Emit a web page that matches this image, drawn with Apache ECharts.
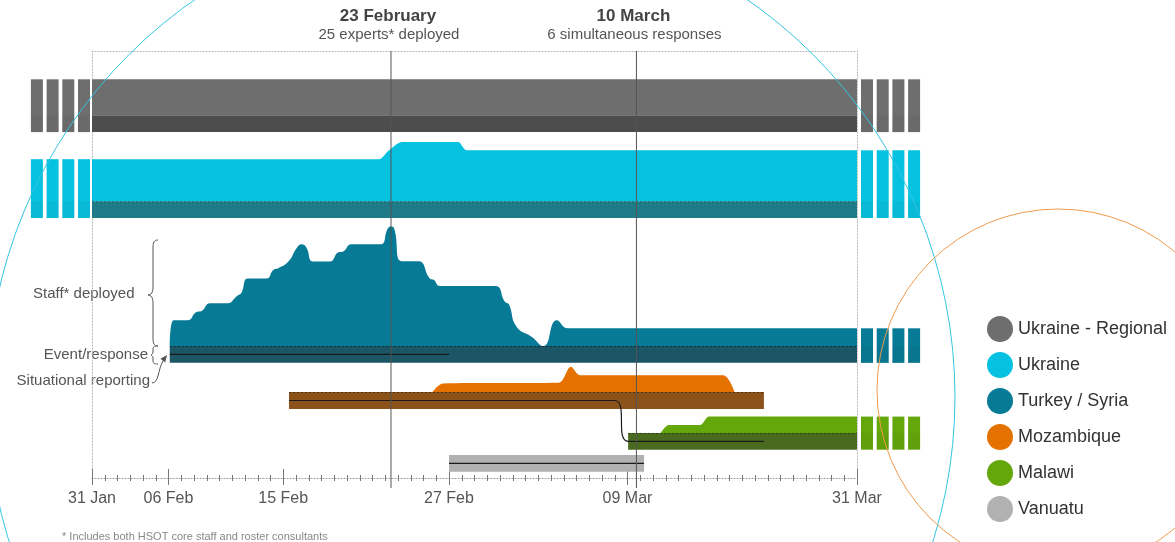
<!DOCTYPE html>
<html>
<head>
<meta charset="utf-8">
<script src="https://cdn.jsdelivr.net/npm/echarts@6/dist/echarts.min.js"></script>
<style>
  html, body { margin: 0; padding: 0; background: #fff; }
  #chart { width: 1175px; height: 542px; }
</style>
</head>
<body>
<div id="chart"></div>
<script>
const FONT = "'Helvetica Neue', Arial, 'Liberation Sans', sans-serif"

// x runs in tick units: 0 = 31 Jan ... 60 = 31 Mar
const tickDays = [0, 6, 15, 28, 42, 60]
const tickLabels = ['31 Jan', '06 Feb', '15 Feb', '27 Feb', '09 Mar', '31 Mar']

const responses = ['Ukraine - Regional', 'Ukraine', 'Turkey / Syria', 'Mozambique', 'Malawi', 'Vanuatu']
const areaColors = ['#6e6e6e', '#06c1df', '#077a96', '#e57200', '#63a70a', '#b1b1b1']
const bandColors = ['#4d4d4d', '#1f7b88', '#1c5566', '#8b521a', '#4a6b1f', '#b1b1b1']

// event / response period [start, end]
const responsePeriods = [[0, 60], [0, 60], [6.1, 60], [15.45, 52.7], [42.05, 60], [28.0, 43.3]]
// situational reporting [start, end]
const sitrepPeriods = [null, null, [6.1, 28.0], [15.45, 41.0], [42.05, 52.7], [28.0, 43.3]]
// Mozambique reporting carries on into Malawi
const sitrepContinues = [null, null, null, 4, null, null]
// still running before / after the window
const ongoingBefore = [true, true, false, false, false, false]
const ongoingAfter = [true, true, true, false, true, false]

// staff deployed: [day, staff]
const staffUkraineRegional = [[0, 7.5], [60, 7.5]]
const staffUkraine = [[0, 8.75], [22.5, 8.75], [23.25, 10.5], [24.35, 12.35], [28.7, 12.35], [29.4, 10.6], [60, 10.6]]
const staffTurkey = [[6.1, 0], [6.4, 5.4], [7.5, 5.4], [8.2, 7.1], [8.6, 7.3], [9.25, 8.9], [10.55, 8.9],
  [11.45, 10.6], [11.7, 11], [12.25, 14.1], [13.7, 14.1], [14.2, 15.8], [14.6, 16.2], [15.4, 17.6],
  [16.1, 20.6], [16.45, 21.2], [16.8, 20.6], [17.35, 17.6], [18.65, 17.6], [19.3, 19.5], [19.7, 19.7],
  [20.35, 21.2], [22.6, 21.2], [23.2, 24.5], [23.45, 24.9], [23.7, 24.5], [24.3, 17.7], [25.6, 17.7],
  [26.5, 14.1], [26.8, 13.8], [27.3, 12.5], [31.6, 12.5], [32.4, 9.2], [32.7, 8.7], [33.3, 4], [34.5, 1.9],
  [35.4, 0], [36.45, 5.4], [37.35, 3.7], [60, 3.7]]
const staffMozambique = [[26.7, 0], [27.5, 1.8], [36.6, 1.95], [37.55, 5.3], [38.3, 3.5], [49.5, 3.5], [50.4, 0]]
const staffMalawi = [[44.6, 0], [45.25, 1.67], [47.7, 1.67], [48.4, 3.4], [60, 3.4]]
const staffSeries = [staffUkraineRegional, staffUkraine, staffTurkey, staffMozambique, staffMalawi, null]
const staffSmooth = [false, 0.3, 0.5, 0.3, 0.3, false]

// highlighted dates
const eventDays = [23.45, 42.7]
const eventTitles = ['23 February', '10 March']
const eventNotes = ['25 experts* deployed', '6 simultaneous responses']

// layout (y units, 0 = axis line)
const Y_MAX = 89
const rowBase = [75.6, 57.7, 27.5, 17.9, 9.4, 4.8]
const bandHeight = 3.5

const chart = echarts.init(document.getElementById('chart'))

function bandItem(row) {
  return function (params, api) {
    const base = rowBase[row]
    const p0 = api.coord([api.value(0), base])
    const p1 = api.coord([api.value(1), base - bandHeight])
    const children = [{
      type: 'rect',
      shape: { x: p0[0], y: p0[1], width: p1[0] - p0[0], height: p1[1] - p0[1] },
      style: { fill: bandColors[row] }
    }]
    if (staffSeries[row] && row > 0) {
      children.push({
        type: 'line',
        shape: { x1: p0[0], y1: p0[1] + 0.5, x2: p1[0], y2: p0[1] + 0.5 },
        style: { stroke: 'rgba(0,0,0,0.45)', lineWidth: 1, lineDash: [2, 2] }
      })
    }
    return { type: 'group', children }
  }
}

function ongoingItem(params, api) {
  const row = api.value(0)
  const side = api.value(1)
  const pts = staffSeries[row]
  const staff = side === 0 ? pts[0][1] : pts[pts.length - 1][1]
  const edge = side === 0 ? 0 : 60
  const top = api.coord([edge, rowBase[row] + staff])
  const mid = api.coord([edge, rowBase[row]])
  const bottom = api.coord([edge, rowBase[row] - bandHeight])
  const children = []
  for (let i = 0; i < 4; i++) {
    const x = side === 0 ? top[0] - 14 - (3 - i) * 15.7 : top[0] + 4 + i * 15.7
    children.push({ type: 'rect', shape: { x, y: top[1], width: 12, height: bottom[1] - top[1] }, style: { fill: areaColors[row] } })
    children.push({ type: 'rect', shape: { x, y: mid[1], width: 12, height: bottom[1] - mid[1] }, style: { fill: bandColors[row], opacity: 0.1 } })
  }
  return { type: 'group', children }
}

function eventItem(params, api) {
  const top = api.coord([api.value(0), Y_MAX])
  const bottom = api.coord([api.value(0), 0])
  const i = params.dataIndex
  return {
    type: 'group',
    children: [
      { type: 'line', shape: { x1: top[0], y1: top[1], x2: top[0], y2: bottom[1] + 10 }, style: { stroke: '#555', lineWidth: 1 } },
      { type: 'text', style: { text: eventTitles[i], x: top[0] - 3, y: 16, align: 'center', verticalAlign: 'middle', font: 'bold 17px ' + FONT, fill: '#444' } },
      { type: 'text', style: { text: eventNotes[i], x: top[0] - 2, y: 35, align: 'center', verticalAlign: 'middle', font: '15px ' + FONT, fill: '#555' } }
    ]
  }
}

const series = []

responses.forEach((name, row) => {
  series.push({
    name, type: 'custom', clip: false, z: 2, silent: true,
    renderItem: bandItem(row),
    data: [responsePeriods[row]]
  })
  if (staffSeries[row]) {
    series.push({
      name, type: 'line', z: 2, silent: true, symbol: 'none',
      smooth: staffSmooth[row],
      lineStyle: { width: 0 },
      areaStyle: { color: areaColors[row], opacity: 1, origin: rowBase[row] },
      data: staffSeries[row].map(p => [p[0], rowBase[row] + p[1]])
    })
  }
})

const continued = sitrepContinues.filter(v => v != null)
sitrepPeriods.forEach((p, row) => {
  if (!p || continued.includes(row)) return
  const mid = rowBase[row] - bandHeight / 2
  const pts = [[p[0], mid], [p[1], mid]]
  const next = sitrepContinues[row]
  if (next != null) {
    const q = sitrepPeriods[next]
    const mid2 = rowBase[next] - bandHeight / 2
    pts.push([q[0], mid2], [q[1], mid2])
  }
  series.push({
    type: 'line', z: 3, silent: true, symbol: 'none', smooth: 0.5,
    lineStyle: { color: '#1a1a1a', width: 1.2 },
    data: pts
  })
})

const ongoingData = []
responses.forEach((n, row) => {
  if (ongoingBefore[row]) ongoingData.push([row, 0])
  if (ongoingAfter[row]) ongoingData.push([row, 1])
})
series.push({ type: 'custom', clip: false, z: 2, silent: true, renderItem: ongoingItem, data: ongoingData })
series.push({ type: 'custom', clip: false, z: 4, silent: true, renderItem: eventItem, data: eventDays.map(d => [d, Y_MAX]) })

const baseX = { type: 'value', min: 0, max: 60, position: 'bottom', splitLine: { show: false } }
const tickColor = '#777'
const frameLine = { show: true, onZero: false, lineStyle: { color: '#b4b4b4', type: [1, 2] } }

// curly brace from (xEnd, yTop) to (xEnd, yBottom), pointing left to xTip at yMid
function brace(xTip, xEnd, yTop, yMid, yBottom, r) {
  const xs = xEnd - 5
  const st = { fill: 'none', stroke: '#555', lineWidth: 1 }
  const bz = (x1, y1, cpx1, cpy1, cpx2, cpy2, x2, y2) => ({ type: 'bezierCurve', silent: true, shape: { x1, y1, cpx1, cpy1, cpx2, cpy2, x2, y2 }, style: st })
  return [
    bz(xEnd, yTop, xs + 1, yTop, xs, yTop + r * 0.3, xs, yTop + r),
    { type: 'line', silent: true, shape: { x1: xs, y1: yTop + r, x2: xs, y2: yMid - r }, style: st },
    bz(xs, yMid - r, xs, yMid - r * 0.3, xs - 2, yMid, xTip, yMid),
    bz(xTip, yMid, xs - 2, yMid, xs, yMid + r * 0.3, xs, yMid + r),
    { type: 'line', silent: true, shape: { x1: xs, y1: yMid + r, x2: xs, y2: yBottom - r }, style: st },
    bz(xs, yBottom - r, xs, yBottom - r * 0.3, xs + 1, yBottom, xEnd, yBottom)
  ]
}

const option = {
  animation: false,
  textStyle: { fontFamily: FONT },
  grid: { left: 92, right: 318, top: 51, bottom: 64, containLabel: false, outerBoundsMode: 'none' },
  xAxis: [
    { ...baseX, interval: 1,
      axisLine: { show: true, onZero: false, lineStyle: { color: '#999', type: [1, 2] } },
      axisTick: { show: true, length: 3, lineStyle: { color: tickColor } },
      axisLabel: { show: true, customValues: tickDays, formatter: v => tickLabels[tickDays.indexOf(v)] || '',
        fontSize: 16, color: '#555', margin: 13, fontFamily: FONT } },
    { ...baseX,
      axisLine: { show: false, onZero: false },
      axisTick: { show: true, customValues: tickDays, length: 7, lineStyle: { color: tickColor } },
      axisLabel: { show: false } },
    { ...baseX, interval: 1,
      axisLine: { show: false, onZero: false },
      axisTick: { show: true, inside: true, length: 3, lineStyle: { color: tickColor } },
      axisLabel: { show: false } },
    { ...baseX,
      axisLine: { show: false, onZero: false },
      axisTick: { show: true, inside: true, customValues: tickDays, length: 9, lineStyle: { color: tickColor } },
      axisLabel: { show: false } },
    { ...baseX, position: 'top', axisLine: frameLine,
      axisTick: { show: false }, axisLabel: { show: false } }
  ],
  yAxis: [
    { type: 'value', min: 0, max: Y_MAX, position: 'left', axisLine: frameLine,
      axisTick: { show: false }, axisLabel: { show: false }, splitLine: { show: false } },
    { type: 'value', min: 0, max: Y_MAX, position: 'right', axisLine: frameLine,
      axisTick: { show: false }, axisLabel: { show: false }, splitLine: { show: false } }
  ],
  legend: {
    orient: 'vertical', left: 982, top: 311,
    itemWidth: 26, itemHeight: 26, itemGap: 10, icon: 'circle', selectedMode: false,
    textStyle: { fontSize: 18, color: '#333', fontFamily: FONT },
    data: responses.map((name, i) => ({ name, itemStyle: { color: areaColors[i] } }))
  },
  graphic: [
    { type: 'circle', silent: true, z: 100, shape: { cx: 471, cy: 397, r: 484 }, style: { fill: 'none', stroke: '#33c5e1', lineWidth: 1 } },
    { type: 'circle', silent: true, z: 100, shape: { cx: 1058, cy: 390, r: 181 }, style: { fill: 'none', stroke: '#ef9a4c', lineWidth: 1 } },
    { type: 'text', x: 33, y: 294, style: { text: 'Staff* deployed', font: '15px ' + FONT, fill: '#555', verticalAlign: 'middle' } },
    { type: 'text', x: 148, y: 355, style: { text: 'Event/response', font: '15px ' + FONT, fill: '#555', align: 'right', verticalAlign: 'middle' } },
    { type: 'text', x: 150, y: 381, style: { text: 'Situational reporting', font: '15px ' + FONT, fill: '#555', align: 'right', verticalAlign: 'middle' } },
    ...brace(148, 158, 240, 295, 346, 8),
    ...brace(151, 158, 346, 355, 364, 3),
    { type: 'bezierCurve', silent: true, shape: { x1: 152, y1: 383, cpx1: 159, cpy1: 383, cpx2: 158, cpy2: 369, x2: 163, y2: 361 }, style: { fill: 'none', stroke: '#555', lineWidth: 1 } },
    { type: 'polygon', silent: true, shape: { points: [[167, 355], [165.2, 362.4], [160.4, 358.8]] }, style: { fill: '#555' } },
    { type: 'text', x: 62, y: 537, style: { text: '* Includes both HSOT core staff and roster consultants', font: '11px ' + FONT, fill: '#888', verticalAlign: 'middle' } }
  ],
  series
}

chart.setOption(option)
</script>
</body>
</html>
